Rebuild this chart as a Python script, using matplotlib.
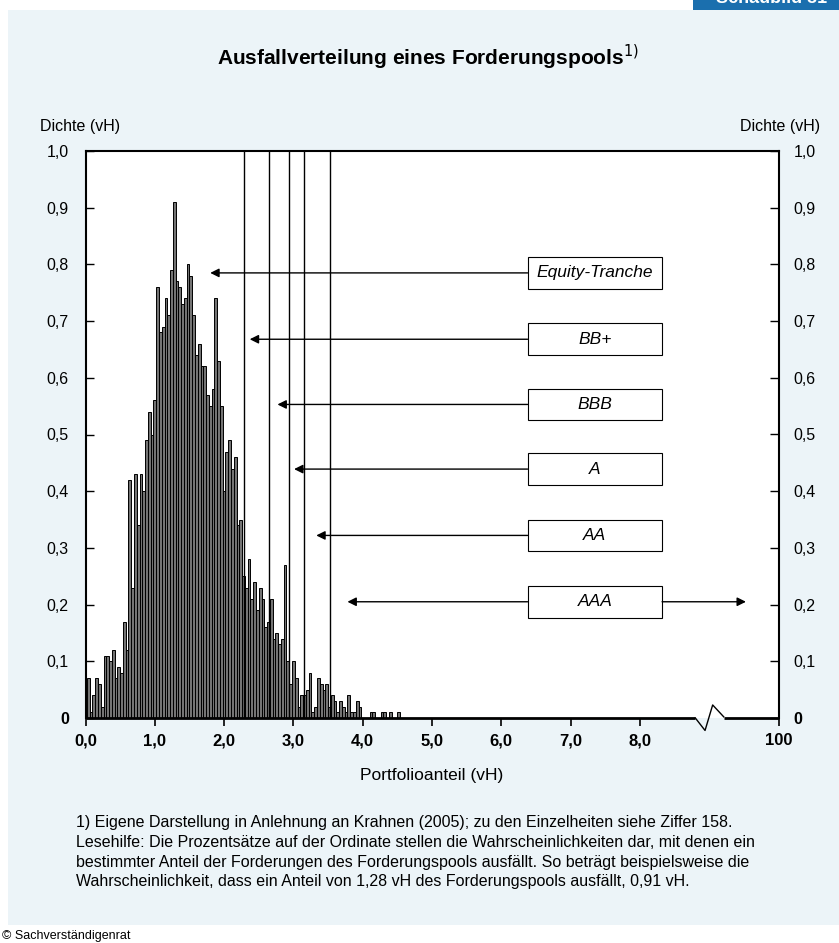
import matplotlib
matplotlib.use("Agg")
import matplotlib.pyplot as plt
import numpy as np
from matplotlib.patches import Rectangle

plt.rcParams["font.family"] = ["Liberation Sans", "DejaVu Sans"]

# density per 0.04 vH bin (bins 1..113)
bin_width = 0.04
density = [
    0.07, 0.01, 0.04, 0.07, 0.06, 0.02, 0.11, 0.11, 0.10, 0.12,
    0.07, 0.09, 0.08, 0.17, 0.12, 0.42, 0.23, 0.43, 0.34, 0.43,
    0.40, 0.49, 0.54, 0.50, 0.56, 0.76, 0.68, 0.69, 0.74, 0.71,
    0.79, 0.91, 0.77, 0.76, 0.73, 0.74, 0.80, 0.78, 0.71, 0.64,
    0.66, 0.62, 0.62, 0.57, 0.55, 0.58, 0.74, 0.63, 0.55, 0.40,
    0.47, 0.49, 0.44, 0.46, 0.34, 0.35, 0.25, 0.23, 0.28, 0.21,
    0.24, 0.19, 0.23, 0.21, 0.16, 0.17, 0.21, 0.14, 0.15, 0.13,
    0.14, 0.27, 0.10, 0.06, 0.10, 0.07, 0.02, 0.04, 0.04, 0.05,
    0.08, 0.01, 0.02, 0.07, 0.06, 0.05, 0.06, 0.02, 0.04, 0.03,
    0.01, 0.03, 0.02, 0.01, 0.04, 0.01, 0.01, 0.03, 0.02, 0.00,
    0.00, 0.00, 0.01, 0.01, 0.00, 0.00, 0.01, 0.01, 0.00, 0.01,
    0.00, 0.00, 0.01,
]
bin_pos = [bin_width * (i + 1) for i in range(len(density))]

# tranche boundaries (vH) and arrow targets
tranche_bounds = [2.28, 2.65, 2.94, 3.16, 3.53]
tranche_names = ["Equity-Tranche", "BB+", "BBB", "A", "AA", "AAA"]
arrow_level = [0.785, 0.668, 0.553, 0.439, 0.322, 0.205]
arrow_head = [1.80, 2.37, 2.77, 3.01, 3.33, 3.78]

xtick_pos = [0, 1, 2, 3, 4, 5, 6, 7, 8, 10]
xtick_lab = ["0,0", "1,0", "2,0", "3,0", "4,0", "5,0", "6,0", "7,0", "8,0", "100"]
ytick_pos = [round(0.1 * i, 1) for i in range(11)]
ytick_lab = ["0"] + [f"{v:.1f}".replace(".", ",") for v in ytick_pos[1:]]

W, H = 839, 943
fig = plt.figure(figsize=(W / 100, H / 100), dpi=100, facecolor="white")


def fx(x):
    return x / W


def fy(y):
    return 1 - y / H


# background panel + tab
fig.patches.append(Rectangle((fx(8), fy(925)), fx(831), 915 / H, transform=fig.transFigure,
                             facecolor="#ECF4F8", edgecolor="none", zorder=-10))
fig.patches.append(Rectangle((fx(693), fy(10)), fx(146), 10 / H, transform=fig.transFigure,
                             facecolor="#1B6FAE", edgecolor="none", zorder=-9))
fig.text(fx(716), fy(3), "Schaubild 31", color="white", fontsize=13, fontweight="bold",
         va="baseline", ha="left")

ax = fig.add_axes([fx(85.5), fy(718), fx(778.5 - 85.5), (718 - 151) / H])
ax.set_facecolor("white")
ax.bar(bin_pos, density, width=bin_width, color="#747474", edgecolor="black", linewidth=0.7,
       zorder=2)

for b in tranche_bounds:
    ax.plot([b, b], [0, 1], color="black", lw=1.0, zorder=3)

box_l, box_r, box_h = 6.38, 8.32, 0.056
for name, lvl, head in zip(tranche_names, arrow_level, arrow_head):
    ax.add_patch(Rectangle((box_l, lvl - box_h / 2), box_r - box_l, box_h, facecolor="white",
                           edgecolor="black", lw=0.8, zorder=4))
    ax.text((box_l + box_r) / 2, lvl, name, ha="center", va="center", style="italic",
            fontsize=12.5, zorder=5)
    ax.annotate("", xy=(head, lvl), xytext=(box_l, lvl),
                arrowprops=dict(arrowstyle="-|>", color="black", lw=1.0, mutation_scale=13,
                                shrinkA=0, shrinkB=0), zorder=4)
ax.annotate("", xy=(9.53, arrow_level[-1]), xytext=(box_r, arrow_level[-1]),
            arrowprops=dict(arrowstyle="-|>", color="black", lw=1.0, mutation_scale=13,
                            shrinkA=0, shrinkB=0), zorder=4)

ax.set_xlim(0, 10)
ax.set_ylim(0, 1)
ax.spines["bottom"].set_visible(False)
for s in ["left", "right", "top"]:
    ax.spines[s].set_linewidth(1.5)

# x axis with break
kw = dict(color="black", clip_on=False, zorder=6)
ax.plot([0, 8.8], [0, 0], lw=2.0, solid_capstyle="butt", **kw)
ax.plot([9.21, 10], [0, 0], lw=2.0, solid_capstyle="butt", **kw)
ax.plot([8.8, 8.94, 9.05, 9.21], [0, -0.022, 0.023, 0.002], lw=1.0, **kw)

ax.set_xticks(xtick_pos)
ax.set_xticklabels(xtick_lab, fontweight="bold", fontsize=12)
ax.tick_params(axis="x", direction="out", length=6, width=1.2, pad=5)

ax.set_yticks(ytick_pos)
ax.set_yticklabels(ytick_lab, fontsize=11.5)
ax.tick_params(axis="y", direction="in", length=6, width=1.0, pad=12)
ax.get_yticklabels()[0].set_fontweight("bold")

ax2 = ax.twinx()
ax2.set_ylim(0, 1)
ax2.set_yticks(ytick_pos)
ax2.set_yticklabels(ytick_lab, fontsize=11.5)
ax2.tick_params(axis="y", direction="in", length=6, width=1.0, pad=11)
ax2.get_yticklabels()[0].set_fontweight("bold")
for s in ax2.spines.values():
    s.set_visible(False)

ax.set_xlabel("Portfolioanteil (vH)", fontsize=12.5, labelpad=14)

fig.text(fx(428), fy(57), "Ausfallverteilung eines Forderungspools$^{1)}$", ha="center",
         va="center", fontsize=15, fontweight="bold")
fig.text(fx(40), fy(126), "Dichte (vH)", ha="left", va="center", fontsize=11.5)
fig.text(fx(820), fy(126), "Dichte (vH)", ha="right", va="center", fontsize=11.5)

notes = [
    "1) Eigene Darstellung in Anlehnung an Krahnen (2005); zu den Einzelheiten siehe Ziffer 158.",
    "Lesehilfe: Die Prozentsätze auf der Ordinate stellen die Wahrscheinlichkeiten dar, mit denen ein",
    "bestimmter Anteil der Forderungen des Forderungspools ausfällt. So beträgt beispielsweise die",
    "Wahrscheinlichkeit, dass ein Anteil von 1,28 vH des Forderungspools ausfällt, 0,91 vH.",
]
for i, line in enumerate(notes):
    fig.text(fx(76), fy(823 + 19.5 * i), line, ha="left", va="center", fontsize=11.5)

fig.text(fx(2), fy(936), "© Sachverständigenrat", ha="left", va="center", fontsize=9)

fig.savefig("out.png", dpi=100, facecolor=fig.get_facecolor())
